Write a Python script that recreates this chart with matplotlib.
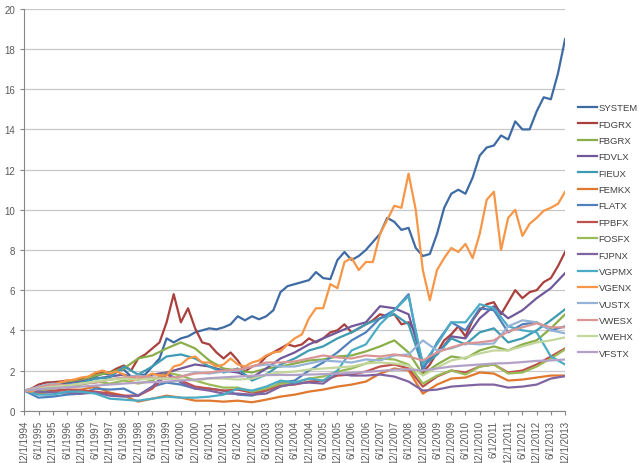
import pandas as pd
import matplotlib.pyplot as plt

# monthly data read off roughly: quarterly for the big movers, half-yearly for the rest
quarters = pd.date_range('1994-12-01', '2013-12-01', freq='3MS')
halves = pd.date_range('1994-12-01', '2013-12-01', freq='6MS')
tick_labels = ['{}/1/{}'.format(d.month, d.year) for d in halves]

SYSTEM = [1.0, 1.05, 1.15, 1.25, 1.3, 1.35, 1.45, 1.45, 1.55, 1.55,
          1.7, 1.85, 1.8, 2.0, 2.05, 1.7, 1.75, 1.8, 2.2, 2.6,
          3.6, 3.4, 3.6, 3.7, 3.9, 4.0, 4.1, 4.05, 4.15, 4.3,
          4.7, 4.5, 4.7, 4.55, 4.7, 5.0, 5.9, 6.2, 6.3, 6.4,
          6.5, 6.9, 6.6, 6.55, 7.5, 7.9, 7.5, 7.7, 8.0, 8.4,
          8.8, 9.6, 9.4, 9.0, 9.1, 8.1, 7.7, 7.8, 8.8, 10.1,
          10.8, 11.0, 10.8, 11.6, 12.7, 13.1, 13.2, 13.7, 13.5, 14.4,
          14.0, 14.0, 14.9, 15.6, 15.5, 16.8, 18.5]
FDGRX = [1.0, 1.1, 1.3, 1.4, 1.42, 1.45, 1.5, 1.5, 1.6, 1.6,
         1.85, 1.95, 1.9, 2.1, 2.25, 2.0, 2.6, 2.8, 3.1, 3.4,
         4.4, 5.8, 4.4, 5.1, 4.1, 3.4, 3.3, 2.9, 2.6, 2.9,
         2.5, 1.95, 2.2, 2.3, 2.7, 2.9, 3.1, 3.3, 3.2, 3.3,
         3.6, 3.4, 3.6, 3.9, 4.0, 4.3, 3.9, 4.1, 4.3, 4.5,
         4.8, 4.7, 4.8, 4.3, 4.4, 3.9, 1.9, 2.3, 2.9, 3.5,
         3.8, 4.2, 3.7, 4.5, 5.0, 5.3, 5.4, 4.8, 5.4, 6.0,
         5.6, 5.9, 6.0, 6.4, 6.6, 7.2, 7.9]
VGENX = [1.0, 0.95, 1.1, 1.2, 1.3, 1.4, 1.5, 1.55, 1.65, 1.7,
         1.9, 2.0, 1.85, 1.95, 1.8, 1.5, 1.6, 1.7, 1.85, 1.75,
         1.75, 2.2, 2.3, 2.6, 2.7, 2.4, 2.4, 2.2, 2.3, 2.6,
         2.3, 2.2, 2.4, 2.5, 2.75, 2.9, 2.95, 3.3, 3.6, 3.8,
         4.6, 5.1, 5.1, 6.3, 6.1, 7.4, 7.6, 7.0, 7.4, 7.4,
         8.8, 9.5, 10.2, 10.1, 11.8, 10.0, 7.0, 5.5, 7.0, 7.6,
         8.1, 7.9, 8.3, 7.6, 8.8, 10.5, 10.9, 8.0, 9.6, 10.0,
         8.7, 9.3, 9.6, 9.95, 10.1, 10.3, 10.9]

FBGRX = [1.0, 1.15, 1.3, 1.4, 1.5, 1.75, 1.9, 2.1, 2.6, 2.75,
         3.1, 3.4, 3.1, 2.5, 2.1, 2.0, 1.9, 2.1, 2.2, 2.35,
         2.5, 2.55, 2.7, 2.75, 2.95, 3.2, 3.5, 2.9, 1.8, 2.3,
         2.7, 2.6, 3.0, 3.2, 3.0, 3.3, 3.5, 4.1, 4.8]
FDVLX = [1.0, 1.1, 1.25, 1.35, 1.45, 1.6, 1.7, 1.8, 1.55, 1.8,
         1.9, 2.1, 2.3, 2.2, 2.0, 1.9, 1.65, 2.1, 2.6, 2.9,
         3.3, 3.6, 3.9, 4.2, 4.4, 5.2, 5.1, 4.8, 2.4, 2.8,
         3.7, 3.6, 4.6, 5.2, 4.6, 5.0, 5.6, 6.1, 6.85]
FIEUX = [1.0, 1.05, 1.15, 1.3, 1.4, 1.6, 1.65, 2.2, 1.8, 2.2,
         2.7, 2.8, 2.6, 2.2, 1.9, 2.1, 1.5, 1.8, 2.3, 2.6,
         3.0, 3.2, 3.6, 3.9, 4.3, 4.6, 4.8, 4.3, 2.2, 2.8,
         3.6, 3.3, 3.9, 4.1, 3.4, 3.6, 4.0, 4.5, 5.05]
FEMKX = [1.0, 0.85, 0.95, 1.05, 1.05, 1.2, 0.9, 0.75, 0.45, 0.6,
         0.75, 0.65, 0.5, 0.5, 0.45, 0.5, 0.42, 0.55, 0.7, 0.8,
         0.95, 1.05, 1.2, 1.3, 1.45, 1.85, 2.1, 2.0, 0.85, 1.3,
         1.6, 1.65, 1.9, 1.85, 1.5, 1.55, 1.65, 1.75, 1.75]
FLATX = [1.0, 0.65, 0.7, 0.8, 0.85, 1.1, 1.05, 1.1, 0.75, 1.2,
         1.4, 1.3, 1.1, 1.1, 1.0, 0.8, 0.75, 1.0, 1.4, 1.5,
         2.0, 2.4, 2.9, 3.5, 3.9, 4.6, 5.0, 5.8, 2.0, 3.4,
         4.4, 4.0, 5.1, 5.0, 3.9, 4.3, 4.4, 4.0, 4.2]
FPBFX = [1.0, 0.95, 1.0, 1.05, 1.0, 0.95, 0.85, 0.75, 0.75, 1.1,
         1.8, 1.5, 1.2, 1.1, 1.0, 1.05, 0.9, 1.0, 1.25, 1.3,
         1.45, 1.5, 1.75, 1.8, 1.95, 2.2, 2.3, 2.1, 1.2, 1.7,
         2.0, 1.9, 2.2, 2.3, 1.9, 2.0, 2.3, 2.7, 3.1]
FOSFX = [1.0, 1.0, 1.1, 1.2, 1.3, 1.45, 1.35, 1.5, 1.35, 1.5,
         1.9, 1.75, 1.5, 1.3, 1.15, 1.15, 0.95, 1.1, 1.35, 1.4,
         1.6, 1.7, 1.95, 2.1, 2.35, 2.6, 2.55, 2.3, 1.35, 1.75,
         2.0, 1.8, 2.2, 2.3, 1.85, 1.9, 2.2, 2.6, 3.05]
FJPNX = [1.0, 0.95, 0.9, 0.9, 0.85, 0.9, 0.75, 0.7, 0.75, 1.2,
         1.9, 1.4, 1.1, 1.0, 0.85, 0.85, 0.8, 0.85, 1.2, 1.35,
         1.4, 1.35, 1.85, 1.75, 1.75, 1.8, 1.7, 1.45, 1.0, 1.05,
         1.2, 1.25, 1.3, 1.3, 1.15, 1.2, 1.3, 1.6, 1.72]
VGPMX = [1.0, 0.8, 0.8, 0.95, 0.95, 0.85, 0.6, 0.55, 0.5, 0.6,
         0.7, 0.65, 0.65, 0.7, 0.8, 1.1, 1.0, 1.2, 1.5, 1.4,
         1.6, 1.5, 2.0, 3.0, 3.3, 4.3, 5.0, 5.7, 2.3, 3.3,
         4.4, 4.4, 5.3, 5.1, 4.2, 4.0, 3.9, 2.7, 2.3]
VUSTX = [1.0, 1.2, 1.35, 1.25, 1.35, 1.4, 1.55, 1.65, 1.75, 1.65,
         1.6, 1.7, 1.9, 1.85, 1.95, 2.0, 2.2, 2.3, 2.2, 2.2,
         2.35, 2.5, 2.45, 2.4, 2.55, 2.5, 2.75, 2.8, 3.5, 3.0,
         3.1, 3.35, 3.3, 3.35, 4.2, 4.5, 4.4, 4.0, 3.85]
VWESX = [1.0, 1.15, 1.3, 1.25, 1.35, 1.4, 1.55, 1.65, 1.7, 1.65,
         1.6, 1.7, 1.85, 1.9, 2.0, 2.05, 2.2, 2.4, 2.4, 2.45,
         2.6, 2.75, 2.65, 2.6, 2.75, 2.7, 2.8, 2.7, 2.5, 2.9,
         3.15, 3.35, 3.4, 3.5, 3.95, 4.15, 4.35, 4.15, 4.15]
VWEHX = [1.0, 1.1, 1.2, 1.25, 1.35, 1.45, 1.55, 1.6, 1.55, 1.6,
         1.6, 1.55, 1.5, 1.6, 1.6, 1.55, 1.6, 1.8, 1.9, 1.95,
         2.05, 2.1, 2.15, 2.2, 2.35, 2.4, 2.35, 2.25, 1.75, 2.15,
         2.5, 2.65, 2.85, 3.0, 3.0, 3.2, 3.4, 3.5, 3.65]
VFSTX = [1.0, 1.07, 1.12, 1.16, 1.2, 1.25, 1.3, 1.35, 1.4, 1.42,
         1.45, 1.5, 1.55, 1.62, 1.66, 1.7, 1.74, 1.77, 1.78, 1.78,
         1.8, 1.82, 1.85, 1.88, 1.93, 1.98, 2.04, 2.06, 2.0, 2.1,
         2.2, 2.25, 2.3, 2.35, 2.37, 2.42, 2.48, 2.5, 2.55]

series = [
    ('SYSTEM', quarters, SYSTEM, '#3F6BA5'),
    ('FDGRX', quarters, FDGRX, '#A9403D'),
    ('FBGRX', halves, FBGRX, '#8AAE48'),
    ('FDVLX', halves, FDVLX, '#71589A'),
    ('FIEUX', halves, FIEUX, '#3E9BB3'),
    ('FEMKX', halves, FEMKX, '#E0782E'),
    ('FLATX', halves, FLATX, '#4F81BD'),
    ('FPBFX', halves, FPBFX, '#C0504D'),
    ('FOSFX', halves, FOSFX, '#9BBB59'),
    ('FJPNX', halves, FJPNX, '#8064A2'),
    ('VGPMX', halves, VGPMX, '#4BACC6'),
    ('VGENX', quarters, VGENX, '#F79646'),
    ('VUSTX', halves, VUSTX, '#95B3D7'),
    ('VWESX', halves, VWESX, '#D99694'),
    ('VWEHX', halves, VWEHX, '#C3D69B'),
    ('VFSTX', halves, VFSTX, '#B3A2C7'),
]

plt.rcParams['font.family'] = 'Liberation Sans'

fig = plt.figure(figsize=(6.4, 4.64), dpi=100)
ax = fig.add_axes([0.038, 0.1127, 0.845, 0.866])

for name, x, y, c in series:
    ax.plot(x, y, color=c, lw=1.6, label=name)

ax.set_ylim(0, 20)
ax.set_yticks(range(0, 21, 2))
ax.set_xlim(halves[0], halves[-1])
ax.set_xticks(halves)
ax.set_xticklabels(tick_labels, rotation=90)
ax.tick_params(colors='#868686', labelcolor='#595959', labelsize=7, length=3, width=0.8)
ax.grid(axis='y', color='#C8C8C8', lw=0.9)
ax.set_axisbelow(True)
for s in ['top', 'right']:
    ax.spines[s].set_visible(False)
for s in ['left', 'bottom']:
    ax.spines[s].set_color('#868686')
    ax.spines[s].set_linewidth(0.8)

leg = fig.legend(loc='center left', bbox_to_anchor=(0.903, 0.501), frameon=False,
                 fontsize=6.8, handlelength=2.0, handletextpad=0.2, labelspacing=0.78,
                 borderpad=0, borderaxespad=0)
for t in leg.get_texts():
    t.set_color('#404040')

plt.savefig('out.png', dpi=100)
